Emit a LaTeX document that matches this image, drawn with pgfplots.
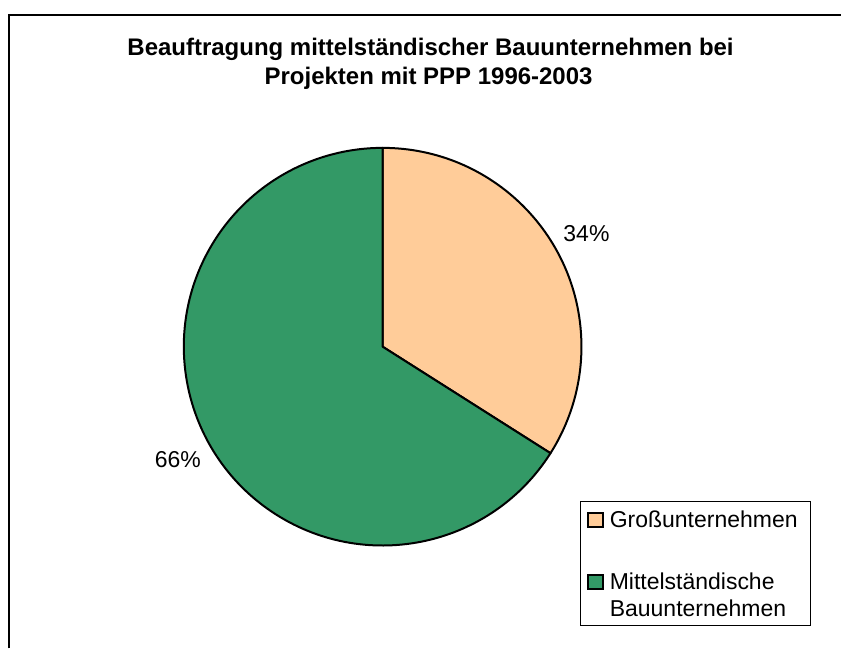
\documentclass[border=0pt]{standalone}
\usepackage{pgfplots}
\pgfplotsset{compat=1.18}
\usepackage{pgfplotstable}
\usepackage{fontspec}
\setmainfont{Liberation Sans}
\definecolor{peach}{HTML}{FFCC99}
\definecolor{pgreen}{HTML}{339966}
\pgfplotstableread{
label value
Gross 34
Mittel 66
}\piedata
\begin{document}
\begin{tikzpicture}
\pgfplotstablegetelem{0}{value}\of\piedata \let\va\pgfplotsretval
\pgfplotstablegetelem{1}{value}\of\piedata \let\vb\pgfplotsretval
\pgfmathsetmacro{\angA}{90-360*\va/(\va+\vb)}
\begin{axis}[x=0.5pt, y=0.5pt, y dir=reverse, xmin=0, xmax=842, ymin=0, ymax=649,
  hide axis, clip=false, scale only axis]
\path (axis cs:0,0) rectangle (axis cs:842,649);
% frame
\draw[line width=0.8pt] (axis cs:9,649) -- (axis cs:9,15) -- (axis cs:842,15);
% title
\node[anchor=base, inner sep=0, font=\bfseries\fontsize{12}{14}\selectfont] at (axis cs:431,56) {Beauftragung mittelständischer Bauunternehmen bei};
\node[anchor=base, inner sep=0, font=\bfseries\fontsize{12}{14}\selectfont] at (axis cs:429,85) {Projekten mit PPP 1996-2003};
% pie
\filldraw[fill=peach, draw=black, line width=1pt, line join=round] (axis cs:383,347) -- ++(90:99.5pt) arc[start angle=90, end angle=\angA, radius=99.5pt] -- cycle;
\filldraw[fill=pgreen, draw=black, line width=1pt, line join=round] (axis cs:383,347) -- ++(\angA:99.5pt) arc[start angle=\angA, end angle=-270, radius=99.5pt] -- cycle;
% labels
\node[anchor=base, inner sep=0, font=\fontsize{11.5}{13}\selectfont] at (axis cs:587,242) {34\%};
\node[anchor=base, inner sep=0, font=\fontsize{11.5}{13}\selectfont] at (axis cs:178,468) {66\%};
% legend
\draw[line width=0.5pt, fill=white] (axis cs:581,502) rectangle (axis cs:811,626);
\filldraw[fill=peach, draw=black, line width=1pt] (axis cs:589,513) rectangle (axis cs:604,527);
\filldraw[fill=pgreen, draw=black, line width=1pt] (axis cs:589,576) rectangle (axis cs:604,590);
\node[anchor=base west, inner sep=0, font=\fontsize{11.5}{13}\selectfont] at (axis cs:610,528) {Großunternehmen};
\node[anchor=base west, inner sep=0, font=\fontsize{11.5}{13}\selectfont] at (axis cs:610,590) {Mittelständische};
\node[anchor=base west, inner sep=0, font=\fontsize{11.5}{13}\selectfont] at (axis cs:610,617) {Bauunternehmen};
\end{axis}
\end{tikzpicture}
\end{document}
